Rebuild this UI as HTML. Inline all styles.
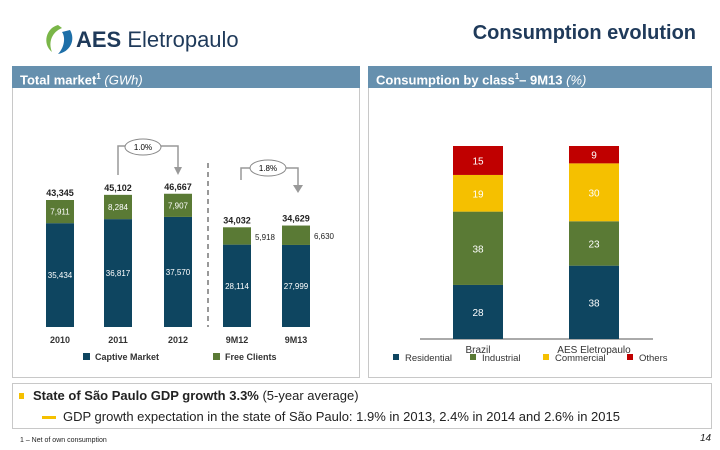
<!DOCTYPE html>
<html><head><meta charset="utf-8"><style>
body{margin:0;width:720px;height:450px;background:#fff;font-family:"Liberation Sans",sans-serif;overflow:hidden;position:relative}
.abs{position:absolute}
.hdr{position:absolute;top:66px;height:22px;background:#6690ae;color:#fff;font-weight:bold;font-size:13px;line-height:22px;padding-left:8px;box-sizing:border-box}
.panel{position:absolute;top:88px;height:290px;border:1px solid #c8c8c8;border-top:none;box-sizing:border-box}
</style></head><body>
<div class="abs" style="left:40px;top:22px;width:220px;height:36px;white-space:nowrap">
<svg width="40" height="36" style="position:absolute;left:0;top:0"><path d="M18 3 C6 6 2 22 12 30 C8 20 12 10 22 6Z" fill="#7ab648"/><path d="M30 8 C36 18 30 30 18 32 C24 26 26 16 22 10Z" fill="#1e6fa8"/></svg>
<span style="position:absolute;left:36px;top:5px;font-size:22px;color:#1f3a5a;white-space:nowrap"><b>AES</b> Eletropaulo</span>
</div>
<div class="abs" style="right:24px;top:22px;font-size:20px;font-weight:bold;color:#1f3a5a">Consumption evolution</div>
<div class="hdr" style="left:12px;width:348px">Total market<sup style="font-size:8px">1</sup> <i style="font-weight:normal">(GWh)</i></div>
<div class="hdr" style="left:368px;width:344px">Consumption by class<sup style="font-size:8px">1</sup>– 9M13 <i style="font-weight:normal">(%)</i></div>
<div class="panel" style="left:12px;width:348px"></div>
<div class="panel" style="left:368px;width:344px"></div>
<svg class="abs" style="left:0;top:0" width="720" height="450" id="charts"></svg>
<div class="abs" style="left:12px;top:383px;width:700px;height:46px;border:1px solid #c8c8c8;box-sizing:border-box"></div>
<div class="abs" style="left:19px;top:393px;width:5px;height:6px;background:#f5c000"></div>
<div class="abs" style="left:33px;top:388px;font-size:13px;color:#222"><b>State of São Paulo GDP growth 3.3%</b> (5-year average)</div>
<div class="abs" style="left:42px;top:416px;width:14px;height:3px;background:#f5c000"></div>
<div class="abs" style="left:63px;top:409px;font-size:13px;color:#222">GDP growth expectation in the state of São Paulo: 1.9% in 2013, 2.4% in 2014 and 2.6% in 2015</div>
<div class="abs" style="left:20px;top:437px;font-size:7px;color:#222">1 – Net of own consumption</div>
<div class="abs" style="left:700px;top:433px;font-size:10px;font-style:italic;color:#222">14</div>
<script>
const cats=["2010","2011","2012","9M12","9M13"];
const captive=[35434,36817,37570,28114,27999];
const free=[7911,8284,7907,5918,6630];
const totals=["43,345","45,102","46,667","34,032","34,629"];
const captiveLbl=["35,434","36,817","37,570","28,114","27,999"];
const freeLbl=["7,911","8,284","7,907","5,918","6,630"];
const classCats=["Brazil","AES Eletropaulo"];
const residential=[28,38];
const industrial=[38,23];
const commercial=[19,30];
const others=[15,9];
const svg=document.getElementById('charts');
const NS="http://www.w3.org/2000/svg";
function mk(t,a,name){const e=document.createElementNS(NS,t);for(const k in a)e.setAttribute(k,a[k]);


svg.appendChild(e);return e;}
function txt(x,y,s,name,o={}){const e=mk('text',Object.assign({x:x,y:y,'font-size':9,'text-anchor':'middle','font-family':'Liberation Sans, sans-serif'},o),name);e.textContent=s;return e;}
const base=327,k=0.00293;
const xs=[46,104,164,223,282],bw=28;
const yv=v=>base-v*k;
cats.forEach((c,i)=>{
 const x=xs[i];
 mk('rect',{x:x,y:yv(captive[i]),width:bw,height:captive[i]*k,fill:'#0e4560'},'captive-bar-'+c);
 mk('rect',{x:x,y:yv(captive[i]+free[i]),width:bw,height:free[i]*k,fill:'#5a7a35'},'free-bar-'+c);
 txt(x+bw/2,yv(captive[i]+free[i])-4,totals[i],'total-label-'+c,{'font-weight':'bold',fill:'#222'});
 txt(x+bw/2,yv(captive[i]/2)+3,captiveLbl[i],'captive-label-'+c,{fill:'#fff','font-size':8});
 if(i<3) txt(x+bw/2,yv(captive[i]+free[i]/2)+3,freeLbl[i],'free-label-'+c,{fill:'#fff','font-size':8});
 else txt(x+bw+14,yv(captive[i]+free[i]/2)+4,freeLbl[i],'free-label-'+c,{fill:'#222','font-size':8});
 txt(x+bw/2,base+16,c,'category-'+c,{'font-weight':'bold',fill:'#333'});
});
mk('line',{x1:208,y1:163,x2:208,y2:327,stroke:'#999','stroke-width':2,'stroke-dasharray':'5,4'},'divider');
mk('path',{d:'M118 175 V146 H178 V168',fill:'none',stroke:'#999','stroke-width':1.5},'growth-bracket-annual');
mk('path',{d:'M174 167 L182 167 L178 175Z',fill:'#999'},'growth-arrow-annual');
mk('ellipse',{cx:143,cy:147,rx:18,ry:8,fill:'#fff',stroke:'#888'},'growth-ellipse-annual');
txt(143,150,'1.0%','growth-label-annual',{'font-size':8});
mk('path',{d:'M241 180 V168 H298 V186',fill:'none',stroke:'#999','stroke-width':1.5},'growth-bracket-9m');
mk('path',{d:'M293 185 L303 185 L298 193Z',fill:'#999'},'growth-arrow-9m');
mk('ellipse',{cx:268,cy:168,rx:18,ry:8,fill:'#fff',stroke:'#888'},'growth-ellipse-9m');
txt(268,171,'1.8%','growth-label-9m',{'font-size':8});
mk('rect',{x:83,y:353,width:7,height:7,fill:'#0e4560'},'legend-captive-swatch');
txt(95,360,'Captive Market','legend-captive',{'text-anchor':'start','font-weight':'bold','font-size':9,fill:'#333'});
mk('rect',{x:213,y:353,width:7,height:7,fill:'#5a7a35'},'legend-free-swatch');
txt(225,360,'Free Clients','legend-free',{'text-anchor':'start','font-weight':'bold','font-size':9,fill:'#333'});
const b2=339,s2=1.93,cx=[453,569],w2=50;
const series=[[residential,'#0e4560','residential'],[industrial,'#5a7a35','industrial'],[commercial,'#f5c000','commercial'],[others,'#c00000','others']];
mk('line',{x1:420,y1:b2,x2:653,y2:b2,stroke:'#555'},'x-axis');
classCats.forEach((c,i)=>{
 let acc=0;
 series.forEach(([arr,col,nm])=>{
  const y0=b2-(acc+arr[i])*s2;
  mk('rect',{x:cx[i],y:y0,width:w2,height:arr[i]*s2,fill:col},nm+'-bar-'+i);
  txt(cx[i]+w2/2,y0+arr[i]*s2/2+4,String(arr[i]),nm+'-label-'+i,{fill:'#fff','font-size':10});
  acc+=arr[i];
 });
 txt(cx[i]+w2/2,b2+14,c,'class-category-'+i,{'font-size':10,fill:'#333'});
});
const leg=[['Residential','#0e4560',393],['Industrial','#5a7a35',470],['Commercial','#f5c000',543],['Others','#c00000',627]];
leg.forEach(([n,c,x])=>{
 mk('rect',{x:x,y:354,width:6,height:6,fill:c},'legend-swatch-'+n.toLowerCase());
 txt(x+12,361,n,'legend-'+n.toLowerCase(),{'text-anchor':'start','font-size':9.5,fill:'#333'});
});
</script>
</body></html>
